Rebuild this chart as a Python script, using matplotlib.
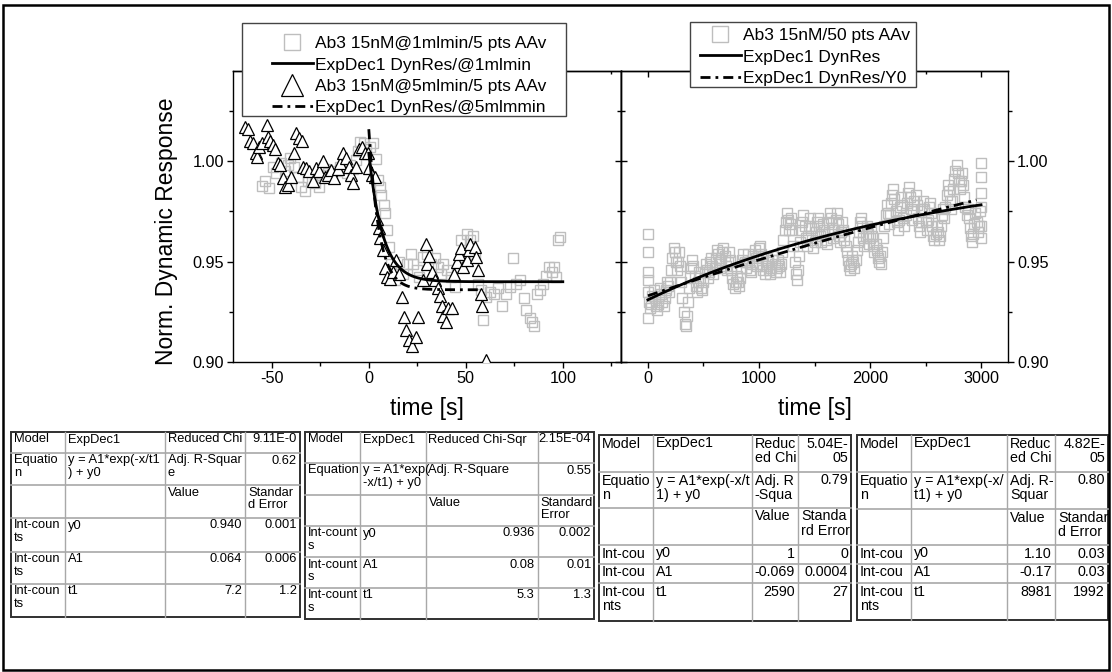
import numpy as np
import matplotlib
matplotlib.use("Agg")
import matplotlib.pyplot as plt
from matplotlib.ticker import MultipleLocator, FormatStrFormatter, NullFormatter
from matplotlib.patches import Rectangle

plt.rcParams["font.family"] = ["Liberation Sans", "DejaVu Sans"]
plt.rcParams["axes.linewidth"] = 1.0
plt.rcParams["axes.unicode_minus"] = False

W, H, DPI = 1112, 672, 100

# ---------------- left panel: 1 ml/min vs 5 ml/min ----------------
SQ1_T = [-55, -53.3, -51.6, -49.6, -47.6, -45.1, -43.1, -41.5, -40.4, -38.4, -36.5, -34.9,
         -32.9, -31.2, -29.2, -27.5, -25.5, -24.7, -22.8, -21, -19, -16.9, -15, -12.9, -11,
         -9.8, -8, -6.7, -5.5, -4.7, -2.7, -1.2, 0.4, 2.4, 3.5, 4.5, 5.9, 6.5, 7.6, 8.6, 9.6,
         10.6, 11.6, 12.7, 13.7, 15.7, 17.8, 19.8, 21.8, 22.9, 24.9, 25.9, 28, 30, 32, 34,
         35.7, 37.1, 38.2, 40.2, 42.2, 44.3, 46.3, 47.3, 48.8, 50.4, 52.4, 53.5, 54.5, 56.5,
         57.6, 59, 60.6, 62.7, 64.7, 66.7, 68.8, 70.8, 72.9, 74.5, 75.9, 78, 80, 81, 83, 84,
         85.1, 86.7, 88.2, 89.6, 91.2, 92.9, 94.3, 95.3, 96.3, 97.3, 98.4]
SQ1_Y = [0.9875, 0.990, 0.9866, 0.9973, 0.994, 0.999, 0.995, 0.998, 1.0015, 0.997, 0.992, 0.987,
         0.985, 0.990, 0.9907, 0.989, 0.987, 0.993, 0.996, 0.994, 0.992, 0.995, 0.997, 0.9965,
         0.994, 0.998, 0.996, 1.0007, 1.005, 1.0098, 1.009, 1.006, 1.007, 1.009, 1.001, 0.9907,
         0.9874, 0.983, 0.978, 0.974, 0.966, 0.9575, 0.949, 0.944, 0.941, 0.950, 0.944, 0.949,
         0.954, 0.949, 0.946, 0.9426, 0.9525, 0.954, 0.949, 0.952, 0.9475, 0.944, 0.949, 0.946,
         0.9426, 0.9376, 0.9475, 0.961, 0.954, 0.964, 0.961, 0.963, 0.954, 0.939, 0.936, 0.921,
         0.9326, 0.935, 0.934, 0.937, 0.928, 0.934, 0.9376, 0.9517, 0.939, 0.941, 0.932, 0.926,
         0.922, 0.920, 0.9177, 0.934, 0.936, 0.939, 0.943, 0.9475, 0.945, 0.9475, 0.9426,
         0.961, 0.9625]

TRI_T = [-63.7, -62.4, -61.2, -59.8, -58.4, -57.7, -56.4, -55, -52.6, -52, -50.9, -49.5,
         -48.1, -46.9, -45.7, -44, -43, -41.8, -40, -38.3, -37.5, -36, -34.4, -33.7, -32.3,
         -30.6, -28.9, -27.1, -25.8, -23.7, -22.5, -21.1, -19.4, -17.7, -16, -14.8, -13.1,
         -11.7, -10.3, -9.1, -8.2, -6.5, -4.8, -3.4, -2.1, -0.5, 0.3, 1.7, 3.4, 4.1, 5.2, 6.0,
         7.2, 8.1, 9.3, 10.7, 12.4, 14.1, 15.8, 17.2, 18.4, 19.2, 20.6, 22.3, 24.1, 25.4, 28,
         29.6, 30, 31, 32.4, 34, 35.7, 36.5, 37.6, 38.2, 39.6, 40.6, 42.7, 43.7, 45.3, 46.3,
         47.3, 48.8, 50.4, 51.4, 52.4, 54.5, 55.5, 56.5, 57.6, 58.6, 60.2]
TRI_Y = [1.017, 1.016, 1.010, 1.009, 1.004, 1.002, 1.007, 1.009, 1.018, 1.012, 1.010, 1.008,
         1.006, 0.999, 0.998, 0.9915, 0.987, 0.988, 0.992, 1.004, 1.014, 1.0115, 1.010, 0.997,
         0.9965, 0.995, 0.990, 0.9965, 0.995, 1.000, 0.992, 0.993, 0.9957, 0.9915, 0.996,
         0.999, 1.004, 1.0015, 0.997, 0.993, 0.989, 0.997, 1.006, 1.007, 1.004, 1.004, 0.9965,
         0.993, 0.992, 0.9715, 0.967, 0.962, 0.9557, 0.9466, 0.9424, 0.9416, 0.945, 0.9507,
         0.944, 0.9325, 0.9225, 0.916, 0.911, 0.908, 0.9125, 0.9225, 0.941, 0.959, 0.949,
         0.953, 0.945, 0.941, 0.937, 0.933, 0.928, 0.923, 0.920, 0.927, 0.927, 0.944, 0.950,
         0.954, 0.957, 0.9475, 0.951, 0.956, 0.959, 0.9575, 0.9525, 0.946, 0.934, 0.928, 0.901]

# ExpDec1 fits: y = A1*exp(-x/t1) + y0  ->  [y0, A1, t1]
FIT_1ML = [0.940, 0.064, 7.2]
FIT_1ML_ERR = ["0.001", "0.006", "1.2"]
FIT_1ML_FMT = ["{:.3f}", "{:.3f}", "{:.1f}"]
FIT_1ML_RANGE = (0, 100)

FIT_5ML = [0.936, 0.08, 5.3]
FIT_5ML_ERR = ["0.002", "0.01", "1.3"]
FIT_5ML_FMT = ["{:.3f}", "{:.2f}", "{:.1f}"]
FIT_5ML_RANGE = (0, 57)

# ---------------- right panel: long run, 50-point average (10 s samples) ----------------
LONG_DT = 10
LONG_Y = [
    0.935, 0.930, 0.927, 0.929, 0.933, 0.936, 0.932, 0.928, 0.926, 0.929,
    0.933, 0.937, 0.934, 0.930, 0.928, 0.932, 0.936, 0.940, 0.938, 0.935,
    0.940, 0.946, 0.952, 0.957, 0.955, 0.950, 0.946, 0.950, 0.955, 0.948,
    0.940, 0.932, 0.925, 0.919, 0.918, 0.923, 0.930, 0.937, 0.943, 0.947,
    0.951, 0.948, 0.943, 0.938, 0.935, 0.940, 0.945, 0.942, 0.937, 0.936,
    0.940, 0.945, 0.949, 0.946, 0.942, 0.945, 0.950, 0.952, 0.948, 0.944,
    0.947, 0.952, 0.956, 0.954, 0.950, 0.947, 0.951, 0.955, 0.957, 0.953,
    0.948, 0.946, 0.950, 0.955, 0.951, 0.946, 0.942, 0.939, 0.937, 0.940,
    0.943, 0.940, 0.938, 0.942, 0.947, 0.951, 0.954, 0.950, 0.947, 0.950,
    0.954, 0.950, 0.946, 0.945, 0.949, 0.953, 0.956, 0.952, 0.948, 0.953,
    0.957, 0.958, 0.954, 0.949, 0.946, 0.944, 0.948, 0.952, 0.950, 0.946,
    0.944, 0.947, 0.951, 0.953, 0.949, 0.945, 0.947, 0.951, 0.948, 0.945,
    0.949, 0.955, 0.961, 0.966, 0.970, 0.974, 0.971, 0.966, 0.969, 0.972,
    0.966, 0.958, 0.950, 0.944, 0.941, 0.946, 0.953, 0.960, 0.966, 0.970,
    0.973, 0.968, 0.962, 0.958, 0.963, 0.968, 0.972, 0.967, 0.961, 0.957,
    0.960, 0.965, 0.970, 0.972, 0.968, 0.963, 0.960, 0.964, 0.969, 0.966,
    0.961, 0.959, 0.964, 0.970, 0.974, 0.972, 0.967, 0.962, 0.966, 0.971,
    0.974, 0.969, 0.963, 0.960, 0.965, 0.970, 0.966, 0.961, 0.958, 0.955,
    0.951, 0.948, 0.946, 0.949, 0.953, 0.950, 0.947, 0.951, 0.956, 0.960,
    0.965, 0.970, 0.972, 0.968, 0.962, 0.958, 0.963, 0.968, 0.964, 0.959,
    0.962, 0.967, 0.963, 0.958, 0.955, 0.959, 0.956, 0.952, 0.950, 0.953,
    0.949, 0.955, 0.962, 0.968, 0.973, 0.978, 0.974, 0.969, 0.973, 0.979,
    0.983, 0.986, 0.981, 0.975, 0.970, 0.966, 0.971, 0.977, 0.982, 0.978,
    0.972, 0.968, 0.973, 0.979, 0.984, 0.987, 0.982, 0.976, 0.971, 0.975,
    0.980, 0.983, 0.978, 0.972, 0.968, 0.965, 0.970, 0.976, 0.980, 0.976,
    0.970, 0.966, 0.971, 0.977, 0.979, 0.974, 0.968, 0.963, 0.961, 0.964,
    0.968, 0.965, 0.961, 0.963, 0.968, 0.973, 0.976, 0.972, 0.977, 0.983,
    0.988, 0.985, 0.980, 0.976, 0.980, 0.986, 0.991, 0.995, 0.998, 0.994,
    0.990, 0.986, 0.990, 0.994, 0.988, 0.982, 0.977, 0.973, 0.976, 0.972,
    0.967, 0.963, 0.960, 0.964, 0.969, 0.974, 0.970, 0.965, 0.968, 0.975,
    0.984]
# repeated readings logged at the first and last time stamps
LONG_START_EXTRA = [0.964, 0.955, 0.945, 0.941, 0.922]
LONG_END_EXTRA = [0.999, 0.992, 0.977, 0.968, 0.962]

FIT_LONG = [1.0, -0.069, 2590]
FIT_LONG_ERR = ["0", "0.0004", "27"]
FIT_LONG_FMT = ["{:.0f}", "{:.3f}", "{:.0f}"]
FIT_LONG_RANGE = (0, 3000)

FIT_LONG_Y0 = [1.103, -0.170, 8981]
FIT_LONG_Y0_ERR = ["0.03", "0.03", "1992"]
FIT_LONG_Y0_FMT = ["{:.2f}", "{:.2f}", "{:.0f}"]
FIT_LONG_Y0_RANGE = (0, 2960)

LEGEND_LEFT = ["Ab3 15nM@1mlmin/5 pts AAv", "ExpDec1 DynRes/@1mlmin",
               "Ab3 15nM@5mlmin/5 pts AAv", "ExpDec1 DynRes/@5mlmmin"]
LEGEND_RIGHT = ["Ab3 15nM/50 pts AAv", "ExpDec1 DynRes", "ExpDec1 DynRes/Y0"]

# fit-summary tables: reduced chi-sqr and adj. R-square as reported
TABLE_STATS = [("Reduced Chi", "9.11E-0", "Adj. R-Squar\ne", "0.62"),
               ("Reduced Chi-Sqr", "2.15E-04", "Adj. R-Square", "0.55"),
               ("Reduc\ned Chi", "5.04E-\n05", "Adj. R\n-Squa", "0.79"),
               ("Reduc\ned Chi", "4.82E-\n05", "Adj. R-\nSquar", "0.80")]
TABLE_EQ_LABEL = ["Equatio\nn", "Equation", "Equatio\nn", "Equatio\nn"]
TABLE_EQ = ["y = A1*exp(-x/t1\n) + y0", "y = A1*exp(\n-x/t1) + y0",
            "y = A1*exp(-x/t\n1) + y0", "y = A1*exp(-x/\nt1) + y0"]
TABLE_ERR_HEAD = ["Standar\nd Error", "Standard\nError", "Standa\nrd Error", "Standar\nd Error"]
TABLE_ROWNAMES = [["Int-coun\nts"] * 3, ["Int-count\ns"] * 3,
                  ["Int-cou", "Int-cou", "Int-cou\nnts"], ["Int-cou", "Int-cou", "Int-cou\nnts"]]
PARAM_NAMES = ["y0", "A1", "t1"]


def exp_dec1(x, p):
    y0, a1, t1 = p
    return a1 * np.exp(-x / t1) + y0


fig = plt.figure(figsize=(W / DPI, H / DPI), dpi=DPI)
fig.patch.set_facecolor("white")


def px_axes(x0, x1, ytop, ybot):
    return fig.add_axes([x0 / W, 1 - ybot / H, (x1 - x0) / W, (ybot - ytop) / H])


axL = px_axes(233, 621, 71, 362)
axR = px_axes(621, 1008, 71, 362)

SQ_STYLE = dict(ls="none", marker="s", ms=6.5, mfc="none", mec="#bebebe", mew=1.0)
TRI_STYLE = dict(ls="none", marker="^", ms=9, mfc="white", mec="black", mew=0.9)
DASHDOT = (0, (3.6, 1.8, 1.0, 1.8))

h1, = axL.plot(SQ1_T, SQ1_Y, zorder=2, **SQ_STYLE)
h3, = axL.plot(TRI_T, TRI_Y, zorder=3, **TRI_STYLE)
x1 = np.linspace(*FIT_1ML_RANGE, 400)
h2, = axL.plot(x1, exp_dec1(x1, FIT_1ML), color="black", lw=2.0, zorder=4)
x2 = np.linspace(*FIT_5ML_RANGE, 400)
h4, = axL.plot(x2, exp_dec1(x2, FIT_5ML), color="black", lw=2.0, ls=DASHDOT, zorder=5)

long_t = np.arange(len(LONG_Y)) * LONG_DT
all_t = np.concatenate([long_t, np.full(len(LONG_START_EXTRA), long_t[0]),
                        np.full(len(LONG_END_EXTRA), long_t[-1])])
all_y = np.concatenate([LONG_Y, LONG_START_EXTRA, LONG_END_EXTRA])
r1, = axR.plot(all_t, all_y, zorder=2, **SQ_STYLE)
x3 = np.linspace(*FIT_LONG_RANGE, 400)
r2, = axR.plot(x3, exp_dec1(x3, FIT_LONG), color="black", lw=2.0, zorder=4)
x4 = np.linspace(*FIT_LONG_Y0_RANGE, 400)
r3, = axR.plot(x4, exp_dec1(x4, FIT_LONG_Y0), color="black", lw=2.0, ls=DASHDOT, zorder=5)

axL.set_xlim(-70, 130)
axR.set_xlim(-243, 3243)
for ax in (axL, axR):
    ax.set_ylim(0.90, 1.045)
    for sp in ax.spines.values():
        sp.set_color("black")
        sp.set_linewidth(1.0)


def style(ax, xmaj, xmin, yside):
    ax.xaxis.set_major_locator(MultipleLocator(xmaj))
    ax.xaxis.set_minor_locator(MultipleLocator(xmin))
    ax.yaxis.set_major_locator(MultipleLocator(0.05))
    ax.yaxis.set_minor_locator(MultipleLocator(0.025))
    ax.yaxis.set_major_formatter(FormatStrFormatter("%.2f"))
    if yside == "right":
        ax.yaxis.tick_right()
    ax.tick_params(which="both", direction="out", width=1.0, labelsize=11.7, pad=2,
                   colors="black")
    ax.tick_params(which="major", length=4.5)
    ax.tick_params(which="minor", length=3)
    top = ax.secondary_xaxis("top")
    top.xaxis.set_major_locator(MultipleLocator(xmaj))
    top.xaxis.set_minor_locator(MultipleLocator(xmin))
    top.xaxis.set_major_formatter(NullFormatter())
    top.tick_params(which="both", direction="in", width=1.0)
    top.tick_params(which="major", length=4)
    top.tick_params(which="minor", length=2.5)
    other = ax.secondary_yaxis("left" if yside == "right" else "right")
    other.yaxis.set_major_locator(MultipleLocator(0.05))
    other.yaxis.set_minor_locator(MultipleLocator(0.025))
    other.yaxis.set_major_formatter(NullFormatter())
    other.tick_params(which="both", direction="in", width=1.0)
    other.tick_params(which="major", length=4)
    other.tick_params(which="minor", length=3)


style(axL, 50, 25, "left")
style(axR, 1000, 500, "right")

for ax in (axL, axR):
    ax.set_xlabel("time [s]", fontsize=16.5)
    ax.xaxis.set_label_coords(0.5, (362 - 397) / 291)
    ax.xaxis.label.set_va("top")

fig.text(166 / W, 1 - 231 / H, "Norm. Dynamic Response", rotation=90,
         ha="center", va="center", fontsize=16.5)

# legends: entries placed without their own frame, boxed separately
LEG_KW = dict(loc="upper left", bbox_transform=fig.transFigure, borderaxespad=0,
              borderpad=0, frameon=False, fontsize=12.5, handlelength=2.35,
              handletextpad=0.15, labelspacing=0.36, markerscale=1.8)
legL = axL.legend([h1, h2, h3, h4], LEGEND_LEFT, bbox_to_anchor=(272 / W, 1 - 36 / H), **LEG_KW)
legR = axR.legend([r1, r2, r3], LEGEND_RIGHT, bbox_to_anchor=(700 / W, 1 - 28 / H), **LEG_KW)
LEGEND_BOXES = [(axL, legL, 242, 566, 23, 116), (axR, legR, 690, 916, 22, 87)]
for ax, leg, bx0, bx1, by0, by1 in LEGEND_BOXES:
    leg.set_zorder(10)
    box = Rectangle((bx0 / W, 1 - by1 / H), (bx1 - bx0) / W, (by1 - by0) / H,
                    transform=fig.transFigure, fc="white", ec="#444444", lw=1.0,
                    zorder=9, clip_on=False)
    ax.add_artist(box)

# ---------------- fit-summary tables and outer frame ----------------
ov = fig.add_axes([0, 0, 1, 1])
ov.set_autoscale_on(False)
ov.set_xlim(0, W)
ov.set_ylim(H, 0)
ov.axis("off")

TABLE_COLS = [[11, 65, 164.5, 245, 300],
              [305, 360, 425.5, 537.6, 594.3],
              [599, 652.5, 751.8, 797.9, 851],
              [856.7, 911, 1007, 1055, 1108]]
TABLE_ROWS = [[432, 453, 485, 518, 552, 584, 617],
              [432, 463, 495, 526, 557, 588, 619],
              [435, 472, 508, 545, 564, 583, 621],
              [435, 472, 509, 545, 564, 583, 620]]
TABLE_FS = [9.3, 9.3, 10.3, 10.3]
ALIGN = [["l", "l", "l", "r"],
         ["l", "l", "l", "r"],
         ["l", "l", "l", "l"],
         ["l", "l", "r", "r"],
         ["l", "l", "r", "r"],
         ["l", "l", "r", "r"]]
FITS = [(FIT_1ML, FIT_1ML_ERR, FIT_1ML_FMT), (FIT_5ML, FIT_5ML_ERR, FIT_5ML_FMT),
        (FIT_LONG, FIT_LONG_ERR, FIT_LONG_FMT), (FIT_LONG_Y0, FIT_LONG_Y0_ERR, FIT_LONG_Y0_FMT)]


def table_cells(i):
    chi_lbl, chi, r2_lbl, r2 = TABLE_STATS[i]
    vals, errs, fmts = FITS[i]
    cells = [["Model", "ExpDec1", chi_lbl, chi],
             [TABLE_EQ_LABEL[i], TABLE_EQ[i], r2_lbl, r2],
             ["", "", "Value", TABLE_ERR_HEAD[i]]]
    for k in range(3):
        cells.append([TABLE_ROWNAMES[i][k], PARAM_NAMES[k], fmts[k].format(vals[k]), errs[k]])
    return cells


for i in range(4):
    cols, rows, fs = TABLE_COLS[i], TABLE_ROWS[i], TABLE_FS[i]
    for x in cols[1:-1]:
        ov.plot([x, x], [rows[0], rows[-1]], color="#a8a8a8", lw=1.0)
    for y in rows[1:-1]:
        ov.plot([cols[0], cols[-1]], [y, y], color="#a8a8a8", lw=1.2)
    ov.add_patch(Rectangle((cols[0], rows[0]), cols[-1] - cols[0], rows[-1] - rows[0],
                           fill=False, ec="#303030", lw=1.4))
    for r, row in enumerate(table_cells(i)):
        for c, txt in enumerate(row):
            if not txt:
                continue
            right = ALIGN[r][c] == "r"
            xt = cols[c + 1] - 3 if right else cols[c] + 3
            ov.text(xt, rows[r] + 1.5, txt, ha="right" if right else "left", va="top",
                    fontsize=fs, linespacing=1.05)

ov.add_patch(Rectangle((2.5, 4.5), 1106, 665, fill=False, ec="black", lw=1.8))

fig.savefig("out.png", dpi=DPI, facecolor="white")
